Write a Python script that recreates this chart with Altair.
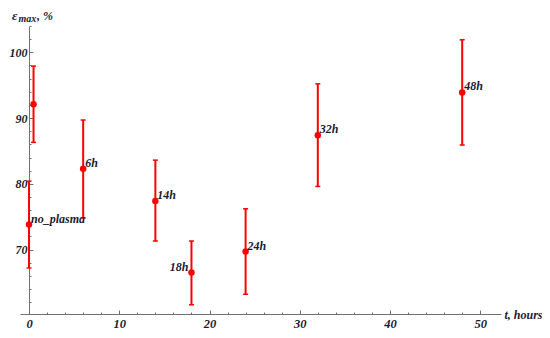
import altair as alt
import pandas as pd

# ---- data ----
t_hours = [0, 0.5, 6, 14, 18, 24, 32, 48]
eps_max = [73.8, 92.1, 82.3, 77.4, 66.5, 69.7, 87.4, 93.9]
err_low = [67.2, 86.3, 74.8, 71.3, 61.6, 63.2, 79.6, 85.9]
err_high = [80.4, 97.9, 89.7, 83.6, 71.3, 76.2, 95.2, 101.9]
point_labels = ["no_plasma", "", "6h", "14h", "18h", "24h", "32h", "48h"]
left_side_labels = ["18h"]

x_tick_labels = [0, 10, 20, 30, 40, 50]
y_tick_labels = [70, 80, 90, 100]
x_minor = list(range(0, 52, 2))
y_minor = list(range(62, 105, 2))

x_domain = [-1, 52.3]
y_domain = [60.2, 104]

df = pd.DataFrame({"t": t_hours, "eps": eps_max, "lo": err_low, "hi": err_high,
                   "label": point_labels})
df["side"] = ["left" if l in left_side_labels else "right" for l in point_labels]

W, H = 481, 288
x0px = W * (0 - x_domain[0]) / (x_domain[1] - x_domain[0])

FONT = "Liberation Serif"
RED = "#ff0000"
TXT = "#1b1b30"
AX = "#707070"

xs = alt.Scale(domain=x_domain, nice=False, zero=False)
ys = alt.Scale(domain=y_domain, nice=False, zero=False)

x_axis = alt.Axis(orient="bottom", values=x_tick_labels, format="d", grid=False,
                  ticks=False, domainColor=AX, domainWidth=1,
                  labelFont=FONT, labelFontSize=12.5, labelFontStyle="italic",
                  labelFontWeight="bold", labelColor=TXT, labelPadding=3,
                  titleX=W + 3, titleY=0, titleAlign="left", titleBaseline="middle",
                  titleAngle=0, titleFont=FONT, titleFontSize=12,
                  titleFontStyle="italic", titleFontWeight="bold", titleColor=TXT)
y_axis = alt.Axis(orient="left", offset=-x0px, values=y_tick_labels, format="d",
                  grid=False, ticks=False, domainColor=AX, domainWidth=1,
                  labelFont=FONT, labelFontSize=12, labelFontStyle="italic",
                  labelFontWeight="bold", labelColor=TXT, labelPadding=2)

X = alt.X("t:Q", scale=xs, axis=x_axis, title="t, hours")

base = alt.Chart(df)
rules = base.mark_rule(color=RED, strokeWidth=2).encode(
    x=X, y=alt.Y("lo:Q", scale=ys, axis=y_axis, title=None), y2="hi:Q")
cap_lo = base.mark_tick(orient="horizontal", color=RED, size=5, thickness=1.5, opacity=1).encode(
    x=X, y=alt.Y("lo:Q", scale=ys, axis=y_axis, title=None))
cap_hi = base.mark_tick(orient="horizontal", color=RED, size=5, thickness=1.5, opacity=1).encode(
    x=X, y=alt.Y("hi:Q", scale=ys, axis=y_axis, title=None))
points = base.mark_circle(size=42, color=RED, opacity=1).encode(
    x=X, y=alt.Y("eps:Q", scale=ys, axis=y_axis, title=None))

txt_kw = dict(font=FONT, fontSize=12, fontStyle="italic", fontWeight="bold", color=TXT,
              baseline="middle")
labels_r = base.transform_filter("datum.label != '' && datum.side == 'right'").mark_text(
    align="left", dx=2, dy=-6, **txt_kw).encode(
    x=X, y=alt.Y("eps:Q", scale=ys, axis=y_axis, title=None), text="label:N")
labels_l = base.transform_filter("datum.side == 'left'").mark_text(
    align="right", dx=-3, dy=-6, **txt_kw).encode(
    x=X, y=alt.Y("eps:Q", scale=ys, axis=y_axis, title=None), text="label:N")

# y-axis title  ε_max, %
t_eps = alt.Chart(pd.DataFrame({"s": ["ε"]})).mark_text(
    align="left", baseline="alphabetic", font=FONT, fontSize=13, fontStyle="italic",
    fontWeight="bold", color=TXT).encode(x=alt.value(-8), y=alt.value(-6), text="s:N")
t_max = alt.Chart(pd.DataFrame({"s": ["max"]})).mark_text(
    align="left", baseline="alphabetic", font=FONT, fontSize=10, fontStyle="italic",
    fontWeight="bold", color=TXT).encode(x=alt.value(-1.5), y=alt.value(-4), text="s:N")
t_pct = alt.Chart(pd.DataFrame({"s": [", %"]})).mark_text(
    align="left", baseline="alphabetic", font=FONT, fontSize=12, fontStyle="italic",
    fontWeight="bold", color=TXT).encode(x=alt.value(17), y=alt.value(-6), text="s:N")

main = alt.layer(rules, cap_lo, cap_hi, points, labels_r, labels_l, t_eps, t_max, t_pct)

# inward-pointing ticks (major longer than minor)
tick_layer = base.mark_point(opacity=0).encode(
    x=alt.X("t:Q", scale=xs, title=None,
            axis=alt.Axis(orient="top", offset=-H, values=x_minor, labels=False,
                          domain=False, grid=False, tickColor=AX, tickWidth=1,
                          tickSize=alt.condition("datum.value % 10 === 0", alt.value(4), alt.value(2)))),
    y=alt.Y("eps:Q", scale=ys, title=None,
            axis=alt.Axis(orient="right", offset=-(W - x0px), values=y_minor, labels=False,
                          domain=False, grid=False, tickColor=AX, tickWidth=1,
                          tickSize=alt.condition("datum.value % 10 === 0", alt.value(4), alt.value(2)))),
)

chart = alt.layer(main, tick_layer).resolve_scale(
    x="independent", y="independent"
).properties(
    width=W, height=H,
    autosize=alt.AutoSizeParams(type="none"),
    padding={"left": 12, "top": 18, "right": 41, "bottom": 16},
    background="white",
).configure_view(strokeWidth=0)

chart.save("out.html", embed_options={"renderer": "svg", "actions": False})
